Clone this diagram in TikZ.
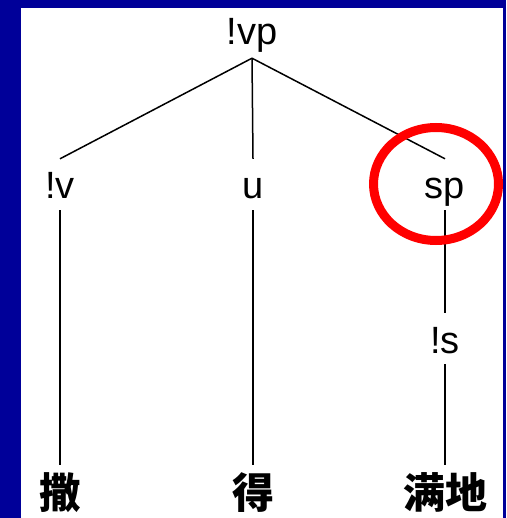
\documentclass[tikz,border=0pt]{standalone}
\usepackage{fontspec}
\setmainfont{Liberation Sans}
\newfontfamily\cjk{Noto Sans CJK SC}
\definecolor{frame}{HTML}{000099}
\definecolor{ring}{HTML}{FF0000}

\begin{document}
\begin{tikzpicture}[
  x=1pt, y=-1pt,
  tag/.style={font=\fontsize{38}{40}\selectfont, anchor=base,
    inner xsep=2pt, inner ysep=0pt, text height=40pt, text depth=11pt},
  word/.style={font=\cjk\bfseries\fontsize{42}{44}\selectfont, anchor=base,
    inner xsep=0pt, inner ysep=0pt, text height=43pt, text depth=6pt},
  branch/.style={draw=black, line width=1.5pt}
]
  \fill[frame] (0,0) rectangle (506,518);
  \fill[white] (21,8) rectangle (503,518);
  \node[tag, text depth=13pt] (vp) at (252,45) {!vp};
  \node[tag] (lv) at (60,199) {!v};
  \node[tag] (u) at (253,199) {u};
  \node[tag] (sp) at (445,199) {sp};
  \node[tag] (ls) at (445,353) {!s};
  \node[word] (sa) at (60,508) {撒};
  \node[word] (de) at (253,508) {得};
  \node[word] (mandi) at (445,508) {满地};
  \draw[branch] (vp.south) -- (lv.north);
  \draw[branch] (vp.south) -- (u.north);
  \draw[branch] (vp.south) -- (sp.north);
  \draw[branch] (lv.south) -- (sa.north);
  \draw[branch] (u.south) -- (de.north);
  \draw[branch] (sp.south) -- (ls.north);
  \draw[branch] (ls.south) -- (mandi.north);
  \draw[ring, line width=9pt] (436,184) ellipse [x radius=62.5pt, y radius=56.5pt];
\end{tikzpicture}
\end{document}
